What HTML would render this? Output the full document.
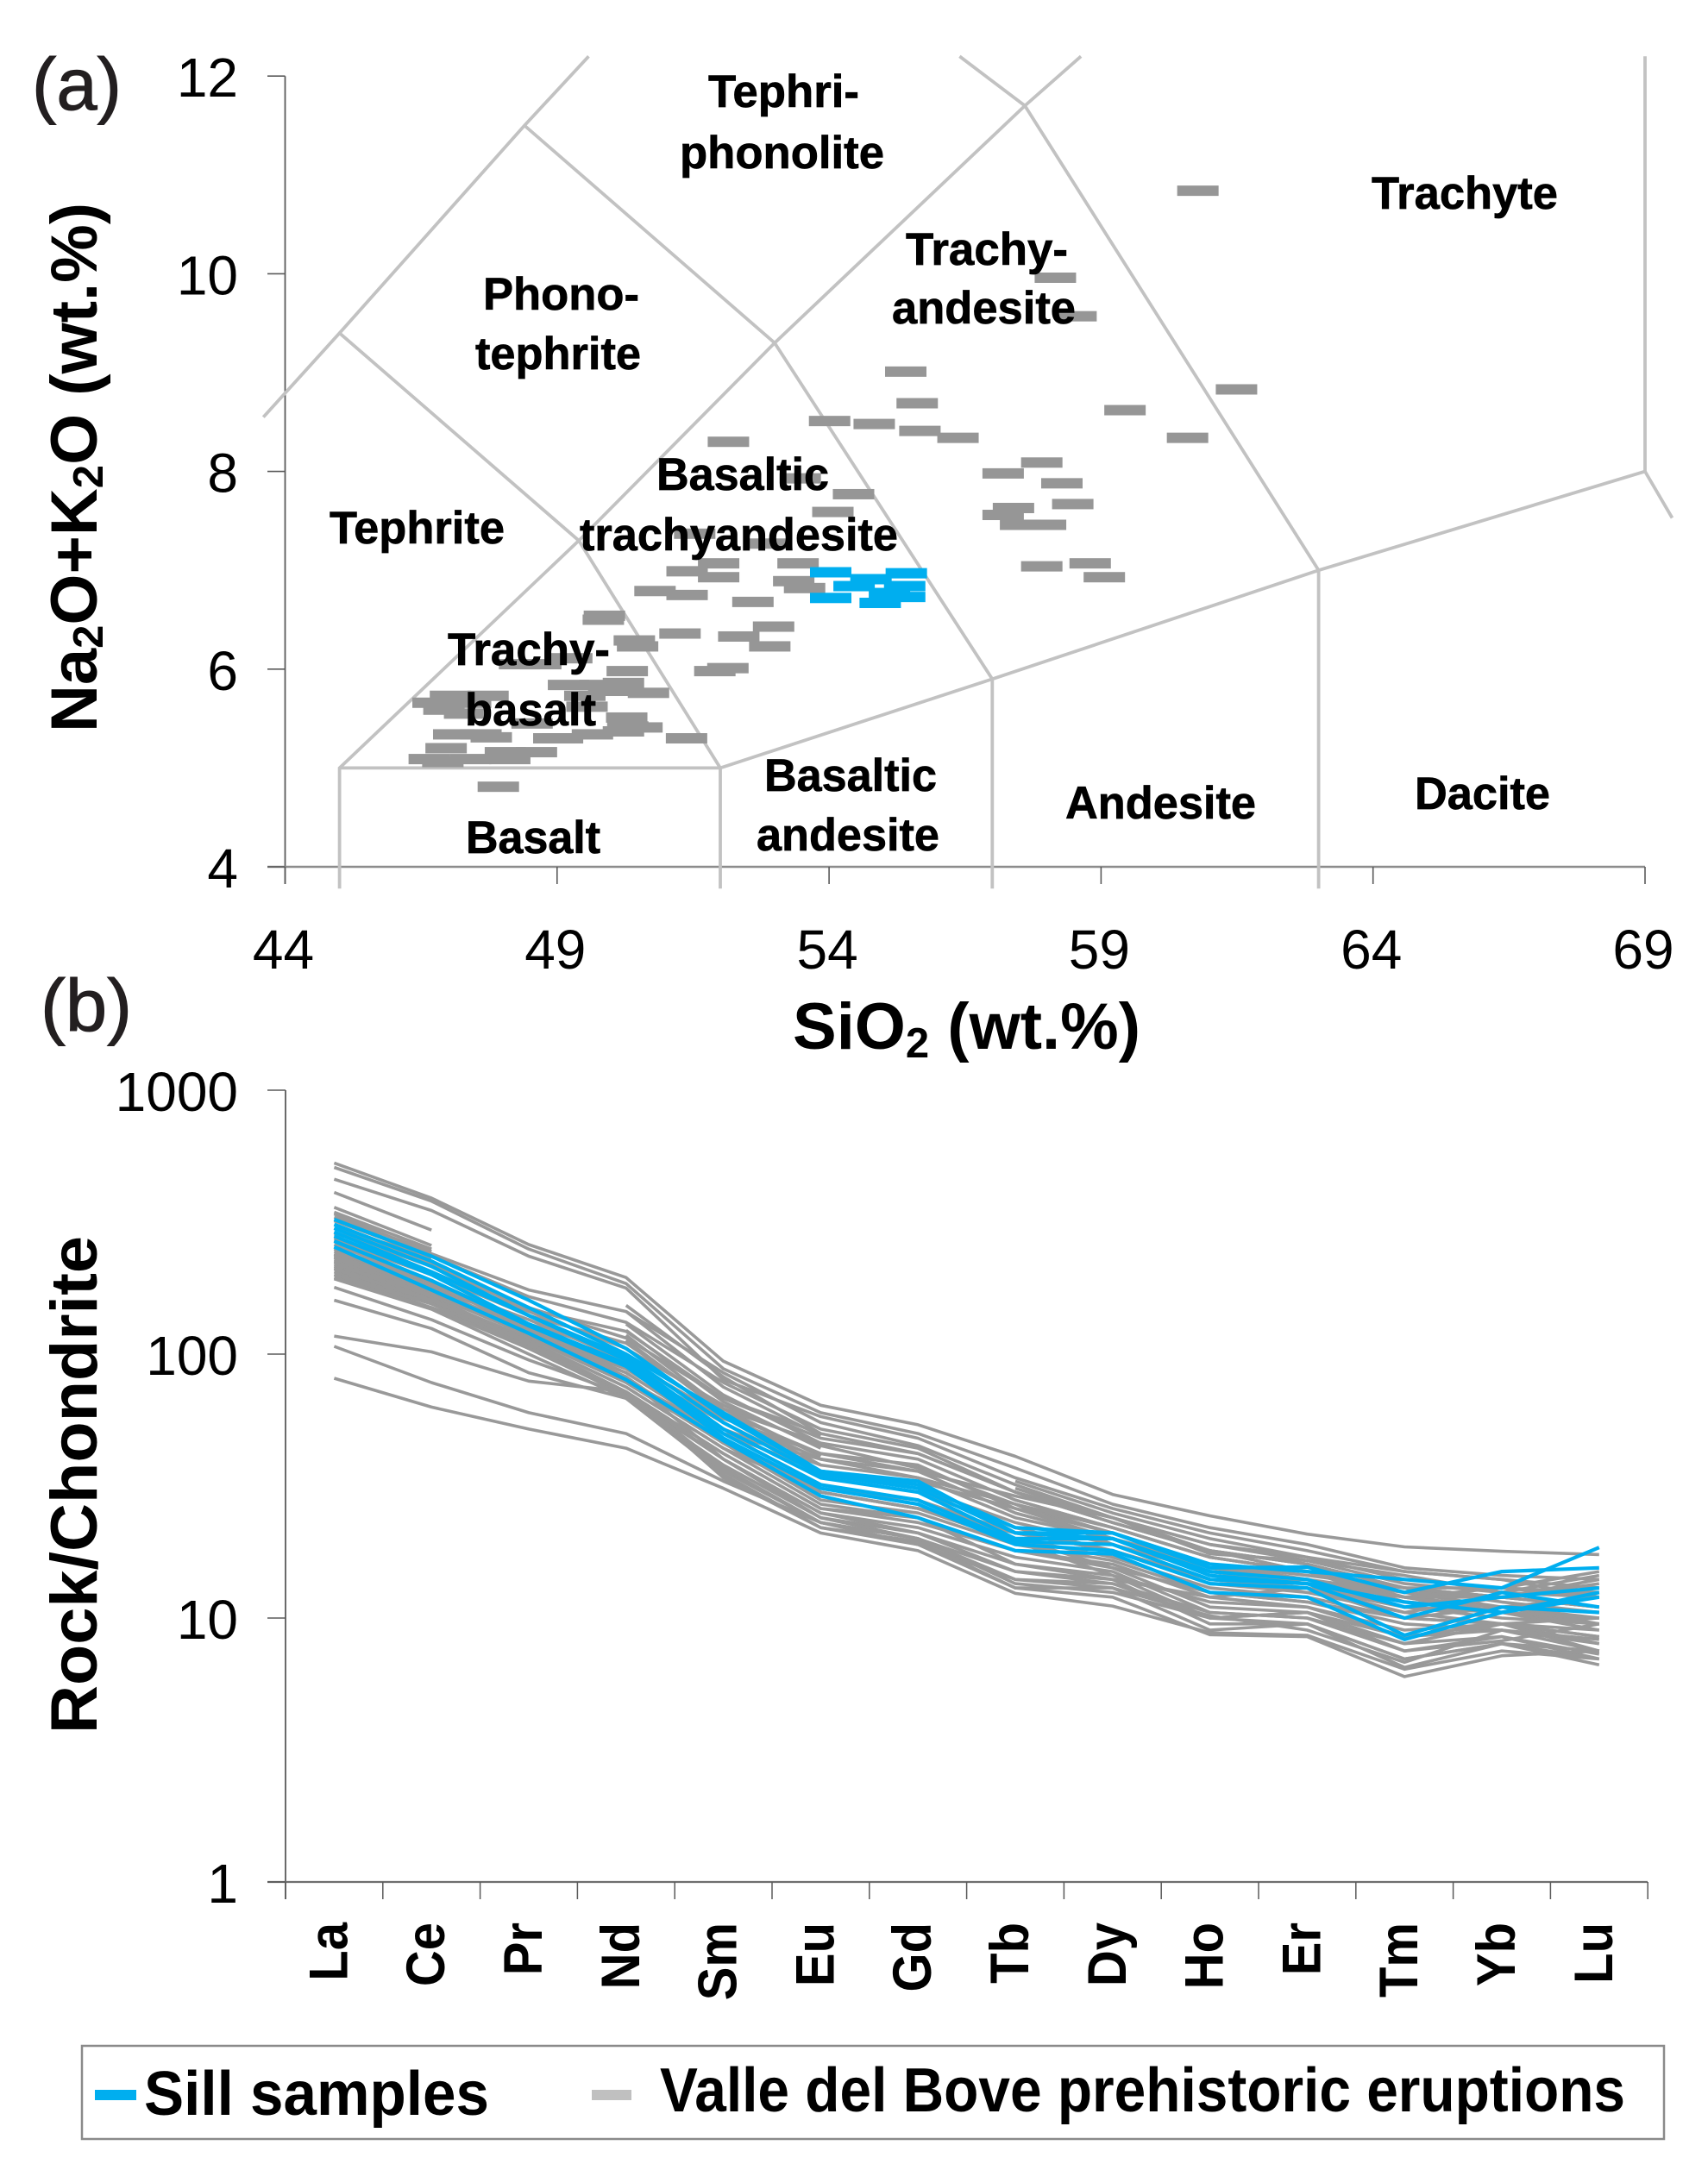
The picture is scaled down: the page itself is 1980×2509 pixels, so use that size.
<!DOCTYPE html>
<html lang="en">
<head>
<meta charset="utf-8">
<title>TAS and REE diagrams</title>
<style>
html,body{margin:0;padding:0;background:#fff;}
svg{display:block;font-family:"Liberation Sans",sans-serif;}
.lab{font-weight:bold;font-size:53px;fill:#000;stroke:#000;stroke-width:.7px;}
.tick{font-size:64px;fill:#000;}
.title{font-weight:bold;font-size:76px;fill:#000;}
.panel{font-size:85px;fill:#231f20;stroke:#231f20;stroke-width:1px;}
.ree{font-weight:bold;font-size:58px;fill:#000;}
.leg{font-weight:bold;font-size:72px;fill:#000;}
</style>
</head>
<body>
<svg id="fig" xmlns="http://www.w3.org/2000/svg" width="1980" height="2509" viewBox="0 0 1980 2509">
  <rect x="0" y="0" width="1980" height="2509" fill="#fff"/>
  <g id="tas-axes"></g>
  <g id="tas-fields"></g>
  <g id="tas-marks"></g>

  <text class="panel" x="37" y="127" textLength="104" lengthAdjust="spacingAndGlyphs">(a)</text>
  <text class="panel" x="47" y="1195" textLength="106" lengthAdjust="spacingAndGlyphs">(b)</text>

  <text class="title" transform="translate(112,849) rotate(-90)" x="0" y="0">Na<tspan font-size="49" dy="7">2</tspan><tspan dy="-7">O+K</tspan><tspan font-size="49" dy="7">2</tspan><tspan dy="-7">O (wt.%)</tspan></text>
  <text class="title" x="919" y="1216">SiO<tspan font-size="49" dy="10">2</tspan><tspan dy="-10"> (wt.%)</tspan></text>

  <g>
    <text class="lab" x="821" y="124" textLength="175" lengthAdjust="spacingAndGlyphs">Tephri-</text>
    <text class="lab" x="788" y="195" textLength="237" lengthAdjust="spacingAndGlyphs">phonolite</text>
    <text class="lab" x="560" y="359" textLength="181" lengthAdjust="spacingAndGlyphs">Phono-</text>
    <text class="lab" x="551" y="428" textLength="192" lengthAdjust="spacingAndGlyphs">tephrite</text>
    <text class="lab" x="382" y="630" textLength="203" lengthAdjust="spacingAndGlyphs">Tephrite</text>
    <text class="lab" x="761" y="568" textLength="200" lengthAdjust="spacingAndGlyphs">Basaltic</text>
    <text class="lab" x="672" y="638" textLength="369" lengthAdjust="spacingAndGlyphs">trachyandesite</text>
    <text class="lab" x="519" y="771" textLength="188" lengthAdjust="spacingAndGlyphs">Trachy-</text>
    <text class="lab" x="539" y="841" textLength="152" lengthAdjust="spacingAndGlyphs">basalt</text>
    <text class="lab" x="540" y="989" textLength="156" lengthAdjust="spacingAndGlyphs">Basalt</text>
    <text class="lab" x="886" y="917" textLength="200" lengthAdjust="spacingAndGlyphs">Basaltic</text>
    <text class="lab" x="877" y="986" textLength="212" lengthAdjust="spacingAndGlyphs">andesite</text>
    <text class="lab" x="1235" y="949" textLength="221" lengthAdjust="spacingAndGlyphs">Andesite</text>
    <text class="lab" x="1640" y="938" textLength="157" lengthAdjust="spacingAndGlyphs">Dacite</text>
    <text class="lab" x="1590" y="242" textLength="216" lengthAdjust="spacingAndGlyphs">Trachyte</text>
    <text class="lab" x="1050" y="307" textLength="188" lengthAdjust="spacingAndGlyphs">Trachy-</text>
    <text class="lab" x="1034" y="375" textLength="213" lengthAdjust="spacingAndGlyphs">andesite</text>
  </g>

  <g id="ree-lines"></g>
  <g id="ree-axes"></g>
  <text class="title" transform="translate(112,2010) rotate(-90)" x="0" y="0" textLength="577" lengthAdjust="spacingAndGlyphs">Rock/Chondrite</text>

  <g>
    <rect x="95" y="2372" width="1834" height="108" fill="#fff" stroke="#8a8a8a" stroke-width="2.5"/>
    <rect x="110" y="2423" width="48" height="12" fill="#00aeef"/>
    <text class="leg" x="167" y="2452" textLength="400" lengthAdjust="spacingAndGlyphs">Sill samples</text>
    <rect x="686" y="2423" width="46" height="12" fill="#c0c0c0"/>
    <text class="leg" x="765" y="2448" textLength="1119" lengthAdjust="spacingAndGlyphs">Valle del Bove prehistoric eruptions</text>
  </g>
</svg>
<script>
/* ---------- Panel (a) data ---------- */
const tasXTicks = [44, 49, 54, 59, 64, 69];
const tasYTicks = [4, 6, 8, 10, 12];
const tasBoundaries = [
  [[43.6,8.55],[45,9.4],[48.4,11.5],[49.58,12.2]],
  [[45,3.78],[45,5],[49.4,7.3],[53,9.3],[57.6,11.7],[58.63,12.2]],
  [[45,9.4],[49.4,7.3],[52,5],[52,3.78]],
  [[48.4,11.5],[53,9.3],[57,5.9],[57,3.78]],
  [[56.4,12.2],[57.6,11.7],[63,7],[63,3.78]],
  [[45,5],[52,5],[57,5.9],[63,7],[69,8],[69.5,7.53]],
  [[69,8],[69,12.2]]
];
const valleTas = [
  [55.41,9.01],[55.62,8.69],[54.01,8.51],[54.83,8.48],[55.67,8.41],[52.15,8.30],[53.47,7.93],[54.45,7.77],
  [54.07,7.59],[51.53,7.37],[52.87,7.27],[51.97,7.07],[53.43,7.07],[51.39,6.99],[51.97,6.93],[53.35,6.89],
  [53.55,6.82],[50.80,6.79],[51.39,6.75],[52.60,6.68],[49.87,6.54],[49.85,6.50],[51.26,6.36],[52.34,6.33],
  [52.98,6.43],[50.42,6.29],[50.48,6.23],[52.91,6.23],[51.90,5.98],[52.14,6.01],[48.31,6.05],[49.27,6.11],
  [50.29,5.98],[49.21,5.84],[49.79,5.84],[50.22,5.86],[50.68,5.76],[49.51,5.73],[47.04,5.73],[47.73,5.73],
  [46.72,5.66],[46.92,5.59],[50.28,5.51],[48.54,5.45],[50.56,5.41],[50.22,5.37],[47.10,5.34],[47.79,5.31],
  [48.94,5.30],[49.65,5.34],[51.38,5.30],[46.96,5.20],[48.05,5.16],[48.62,5.16],[46.65,5.09],[47.41,5.09],
  [48.13,5.09],[46.90,5.06],[47.92,4.81],
  [47.41,5.66],[47.30,5.55],[47.60,5.34],[49.55,5.62],[50.30,5.42],[49.95,5.78],[49.10,5.30],[48.70,6.05],
  [60.78,10.84],[58.16,9.96],[58.54,9.57],[61.49,8.83],[59.44,8.62],[60.59,8.34],[56.37,8.34],[57.91,8.09],
  [57.20,7.98],[58.28,7.88],[58.48,7.67],[57.39,7.63],[57.20,7.56],[57.52,7.46],[57.98,7.46],[57.91,7.04],
  [58.80,7.07],[59.06,6.93]
];
const sillTas = [
  [54.03,6.98],[55.42,6.97],[54.46,6.84],[54.77,6.91],[55.39,6.84],[55.11,6.77],[55.39,6.73],[54.03,6.72],[54.94,6.67]
];

/* ---------- Panel (b) data ---------- */
const reeElements = ["La","Ce","Pr","Nd","Sm","Eu","Gd","Tb","Dy","Ho","Er","Tm","Yb","Lu"];
const reeYTicks = [1, 10, 100, 1000];
const valleRee = [
  [530,390,260,195,94,64,54,41,29.4,24.4,20.8,18.6,17.9,17.4],
  [510,380,250,185,88,60,50,37,27,22,19,15.5,14.5,14],
  [460,350,235,178,80,58,48,34,26,21,18,15,14,13],
  [410,295,null,153,82,50,null,33,25,20,17,14,13,12.5],
  [360,258,null,145,75,49,null,31,24,19,16.5,13.5,12.5,12],
  [345,250,null,130,70,46,null,30,23,18,16,13,12,11],
  [330,245,null,123,66,44,null,28,22,17,15,13,11.5,10.5],
  [300,235,null,118,62,41,null,27,21,16,15,12.5,11,10],
  [285,232,null,113,60,38,null,25,20,15.5,14,12,10.5,9.5],
  [340,240,175,145,85,55,45,32,24,18,16,13,12,11],
  [320,235,165,132,78,52,44,30,23,18,15,12,11,9.5],
  [300,220,150,115,68,50,42,30,23,18,16,13,13,12],
  [270,200,140,110,62,46,40,28,22,17,15,12,12,11],
  [260,190,130,100,60,42,38,26,21,16,14.5,13,12,13],
  [250,190,125,95,57,42,36,25,20,16,14,12.5,12,14],
  [240,180,120,88,52,38,34,27,22,17,15,11.5,11,12],
  [228,178,118,85,50,36,33,26,20,15,14,11,10.5,10],
  [215,165,112,75,44,30,26,21,18,14,14,12,13,15],
  [200,150,110,72,42,26,24,16,14,12,13,10.5,12,13.5],
  [245,185,135,95,58,40,34,24,20,15,13.5,11,10.5,9],
  [238,180,130,90,55,36,31,23,19,14,13,11,10,9.5],
  [232,175,125,88,52,34,30,22,18,14,13,10,9.5,8.5],
  [225,170,122,85,50,32,28,21,18,13.5,12.5,10.5,9.5,8.5],
  [218,168,118,80,48,30,26,20,17,13,12,10,9.5,8],
  [212,162,115,78,46,28,25,19,16.5,12.5,11.5,9.5,9,8],
  [205,158,112,75,44,27,24,18,16,12,11,9,9.5,7.5],
  [200,155,108,72,42,26,23,18,15.5,11,10.5,8.5,9,7.5],
  [195,150,105,70,40,25,22,17,15,10.5,10,8,8.5,7],
  [193,148,100,68,38,24,21,16,14.5,10,10.5,7.5,8.5,7.3],
  [179,135,95,70,36,23,20,15,13.5,10,9.5,7,8,7],
  [160,125,85,68,35,22,19,14,13,9,9.5,6.5,8,6.65],
  [117,102,79,72,40,25,21,15,14,9.5,9.5,7,8,7.5],
  [107,78,60,50,33,23,19,13,12,8.65,8.5,6,7.2,7.5],
  [81,63,52,44,31,21,18,12.4,11.1,8.8,8.6,6.4,7.5,7],
  [232,172,118,82,40,24,20,13.5,12.5,10,10.5,8,9.5,9],
  [222,160,105,72,37,23,20,14,13.5,10.5,10,7.5,8.2,9.5],
  [210,160,110,72,34,22,19.5,13,13,10.2,9,6.8,9,8.3],
  [240,175,122,82,46,31,28,20,15.5,12.5,11.5,10,11,10.5],
  [275,205,145,105,64,45,37,27,19,15,13.5,12,10.5,12.5],
  [250,185,125,78,47,30,26,19.5,14.5,11.5,11,8.5,9.5,10],
  [290,215,148,122,68,48,42,30,24,17.5,16.5,14.5,12.5,14.5],
  [235,178,120,80,50,40,36,29,24,19,17,15,14,12]
];
const sillRee = [
  [324,235,160,105,58,36,32,22,21,16,15,14,13,18.5],
  [310,225,150,100,60,36,33,21,21,15.5,15.6,12.5,15,15.5],
  [300,215,140,98,55,35,31,21,20,15,14,11,12,13],
  [290,205,140,95,52,34,30,20,20,14.5,13.5,10,12.5,11],
  [280,200,130,92,50,32,28,19.5,19,14,13.5,11.5,10.5,12.5],
  [268,190,128,90,48,31,27,19,18,13.5,13,8.6,11,10.5],
  [255,175,120,80,47,29,24,18,17.5,12.5,12,8.3,10.5,12]
];

/* ---------- Axis functions ---------- */
const SVGNS = "http://www.w3.org/2000/svg";
function tasX(v){ return 330.5 + (v - 44) * 63.06; }
function tasY(v){ return 1005 - (v - 4) * 114.6; }
function reeX(i){ return 387.4 + i * 112.8; }
function reeY(v){ return 2182 - 306 * Math.log10(v); }

function mk(tag, parent, attrs, text){
  const el = document.createElementNS(SVGNS, tag);
  for (const k in attrs) el.setAttribute(k, attrs[k]);
  if (text !== undefined) el.textContent = text;
  parent.appendChild(el);
  return el;
}

/* ---------- Panel (a) axes ---------- */
const tasAxes = document.getElementById("tas-axes");
let axisEl = mk("line", tasAxes, {x1:tasX(44), y1:tasY(12), x2:tasX(44), y2:1025, stroke:"#5a5a5a", "stroke-width":1.8});


axisEl = mk("line", tasAxes, {x1:310, y1:tasY(4), x2:tasX(69), y2:tasY(4), stroke:"#8c8c8c", "stroke-width":2.6});


tasYTicks.forEach(function(t){
  const tick = mk("line", tasAxes, {x1:310, y1:tasY(t), x2:tasX(44), y2:tasY(t), stroke:"#5a5a5a", "stroke-width":1.6});
  
  
  const label = mk("text", tasAxes, {x:276, y:tasY(t)+24, "text-anchor":"end", "class":"tick"}, String(t));
  
  
});
tasXTicks.forEach(function(t){
  const tick = mk("line", tasAxes, {x1:tasX(t), y1:tasY(4), x2:tasX(t), y2:1025, stroke:"#5a5a5a", "stroke-width":1.6});
  
  
  const label = mk("text", tasAxes, {x:tasX(t)-2, y:1123, "text-anchor":"middle", "class":"tick"}, String(t));
  
  
});

/* ---------- Panel (a) field boundaries ---------- */
const tasFields = document.getElementById("tas-fields");
tasBoundaries.forEach(function(b){
  const pts = b.map(function(p){ return tasX(p[0]).toFixed(1) + "," + tasY(p[1]).toFixed(1); }).join(" ");
  const line = mk("polyline", tasFields, {points:pts, fill:"none", stroke:"#c2c2c2", "stroke-width":3.8});
  
  
});

/* ---------- Panel (a) samples ---------- */
const tasMarks = document.getElementById("tas-marks");
function dash(p, colour){
  const r = mk("rect", tasMarks, {x:tasX(p[0])-24, y:tasY(p[1])-6, width:48, height:12, fill:colour});
  return r;
}
valleTas.forEach(function(p){
  const r = dash(p, "#969696");
  
  
});
sillTas.forEach(function(p){
  const r = dash(p, "#00aeef");
  
  
});

/* ---------- Panel (b) axes ---------- */
const reeAxes = document.getElementById("ree-axes");
axisEl = mk("line", reeAxes, {x1:331, y1:reeY(1000), x2:331, y2:2202, stroke:"#5a5a5a", "stroke-width":1.8});


axisEl = mk("line", reeAxes, {x1:310, y1:reeY(1), x2:1910, y2:reeY(1), stroke:"#6e6e6e", "stroke-width":2.2});


reeYTicks.forEach(function(t){
  const tick = mk("line", reeAxes, {x1:310, y1:reeY(t), x2:331, y2:reeY(t), stroke:"#5a5a5a", "stroke-width":1.6});
  
  
  const label = mk("text", reeAxes, {x:276, y:reeY(t)+24, "text-anchor":"end", "class":"tick"}, String(t));
  
  
});
for (let i = 0; i <= reeElements.length; i++) {
  const tx = reeX(i) - 56.4;
  const tick = mk("line", reeAxes, {x1:tx, y1:reeY(1), x2:tx, y2:2202, stroke:"#5a5a5a", "stroke-width":1.5});
  
  
}
reeElements.forEach(function(el, i){
  const bx = reeX(i) + 15;
  const label = mk("text", reeAxes, {transform:"translate(" + bx.toFixed(1) + ",2229) rotate(-90) scale(1,1.08)", x:0, y:0, "text-anchor":"end", "class":"ree"}, el);
  
  
});

/* ---------- Panel (b) series ---------- */
const reeLines = document.getElementById("ree-lines");
function seriesPath(vals){
  let d = "", pen = false;
  vals.forEach(function(v, i){
    if (v === null) { pen = false; return; }
    d += (pen ? "L" : "M") + reeX(i).toFixed(1) + " " + reeY(v).toFixed(1);
    pen = true;
  });
  return d;
}
valleRee.forEach(function(vals){
  const p = mk("path", reeLines, {d:seriesPath(vals), fill:"none", stroke:"#999999", "stroke-width":3.6, "stroke-linejoin":"round"});
  
  
});
sillRee.forEach(function(vals){
  const p = mk("path", reeLines, {d:seriesPath(vals), fill:"none", stroke:"#00aeef", "stroke-width":4.2, "stroke-linejoin":"round"});
  
  
});
</script>
</body>
</html>
